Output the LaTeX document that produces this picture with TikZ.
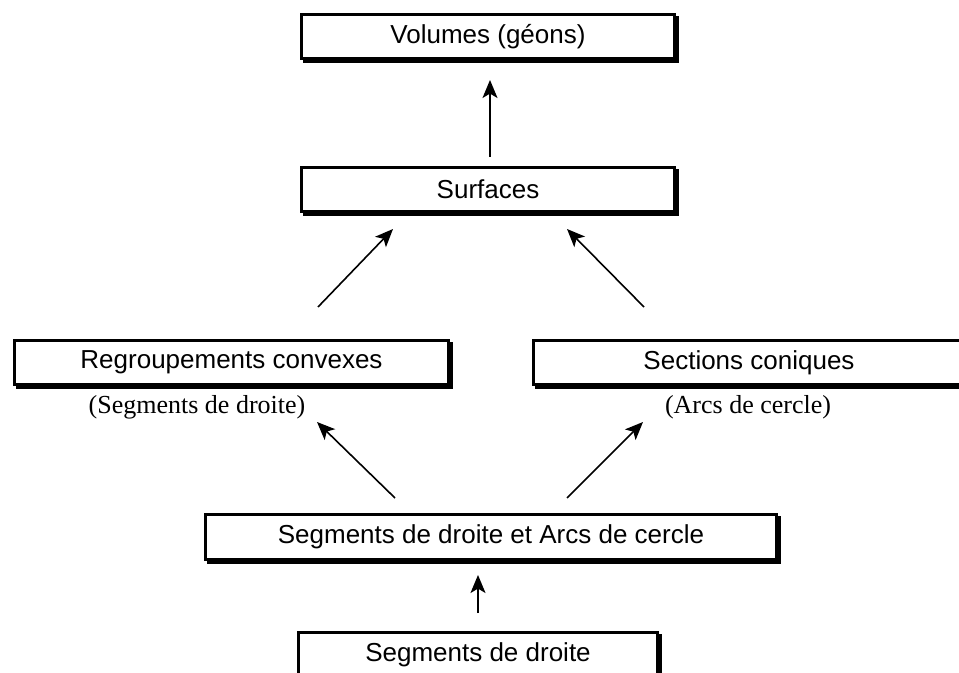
\documentclass[tikz,border=0pt]{standalone}
\usepackage{fontspec}
\setmainfont{Liberation Sans}
\newfontfamily\labfont{Liberation Serif}
\usepackage{tikz}
\usetikzlibrary{arrows.meta,shadows}

\begin{document}
\begin{tikzpicture}[
  x=0.5pt, y=-0.5pt,
  lvl/.style={draw, line width=1.6pt, fill=white, inner sep=0pt,
              font=\fontsize{13}{15}\selectfont, minimum height=21.9pt,
              drop shadow={shadow xshift=1.5pt, shadow yshift=-1.5pt,
                           fill=black, draw=black, line width=1.6pt, opacity=1}},
  sub/.style={inner sep=0pt, font=\labfont\fontsize{13}{15}\selectfont},
  arr/.style={-{Stealth[length=9pt,width=7.5pt,inset=2.2pt]}, line width=0.8pt}
]
\clip (0,0) rectangle (959,673);
\fill[white] (0,0) rectangle (959,673);

% boxes
\node[lvl, minimum width=186.4pt] (vol) at (488,36.5) {Volumes (géons)};
\node[lvl, minimum width=186.4pt] (surf) at (488,189.5) {Surfaces};
\node[lvl, minimum width=216.9pt] (regr) at (231.5,362.5) {Regroupements convexes};
\node[lvl, minimum width=215.4pt] (sect) at (749,362.5) {Sections coniques};
\node[lvl, minimum width=285.4pt, minimum height=22.4pt] (both) at (491,537) {Segments de droite et Arcs de cercle};
\node[lvl, minimum width=179.4pt, minimum height=22.4pt] (segd) at (478,655) {Segments de droite};

% labels under the middle boxes
\node[sub] (lsegd) at (197,407) {(Segments de droite)};
\node[sub] (larcs) at (748,407) {(Arcs de cercle)};

% arrow ends
\coordinate (a1s) at (490,157);  \coordinate (a1e) at (490,80);
\coordinate (a2s) at (318,307);  \coordinate (a2e) at (393,229);
\coordinate (a3s) at (644,307);  \coordinate (a3e) at (567,229);
\coordinate (a4s) at (395,498);  \coordinate (a4e) at (317,422);
\coordinate (a5s) at (567,498);  \coordinate (a5e) at (643,422);
\coordinate (a6s) at (478,613);  \coordinate (a6e) at (478,575);

\draw[arr] (a1s) -- (a1e);
\draw[arr] (a2s) -- (a2e);
\draw[arr] (a3s) -- (a3e);
\draw[arr] (a4s) -- (a4e);
\draw[arr] (a5s) -- (a5e);
\draw[arr] (a6s) -- (a6e);
\end{tikzpicture}
\end{document}
